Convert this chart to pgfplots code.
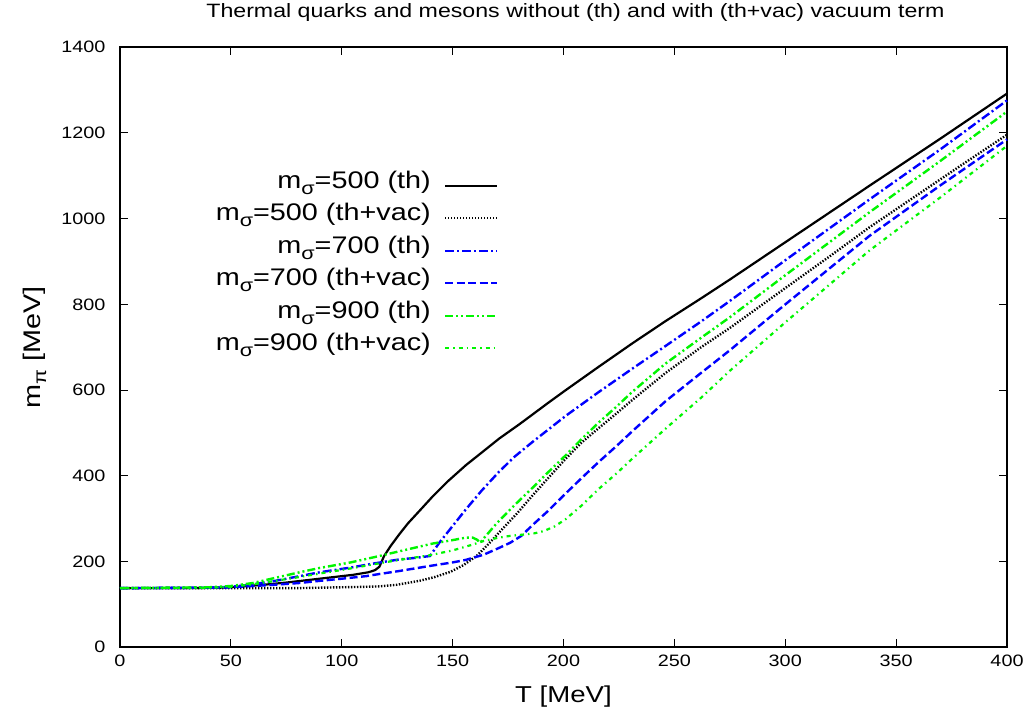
\documentclass[border=0pt]{standalone}
\usepackage{fontspec}
\setmainfont{Liberation Sans}[FakeStretch=1.2]
\usepackage{pgfplots}
\pgfplotsset{compat=1.18}
\definecolor{gpblue}{RGB}{0,0,255}
\definecolor{gpgreen}{RGB}{0,245,0}
\newcommand{\sub}[1]{\raisebox{-6bp}{\fontsize{18bp}{18bp}\selectfont #1}}
\pgfplotsset{
  legend image code/.code={\draw[#1] (0bp,0bp) -- (52bp,0bp);},
}
\begin{document}
\begin{tikzpicture}
\begin{axis}[
  scale only axis,
  width=887bp, height=600bp,
  xmin=0, xmax=400, ymin=0, ymax=1400,
  xtick={0,50,...,400}, ytick={0,200,...,1400},
  tick align=inside, major tick length=8bp,
  axis line style={line width=1.6bp},
  every tick/.style={black, line width=1bp},
  scaled ticks=false,
  /pgf/number format/1000 sep={},
  /pgf/number format/assume math mode=true,
  tick label style={font=\fontsize{16.5bp}{19bp}\selectfont},
  xticklabel style={yshift=-4bp},
  yticklabel style={xshift=-11bp},
  title={Thermal quarks and mesons without (th) and with (th+vac) vacuum term},
  title style={font=\fontsize{19.3bp}{23bp}\selectfont, at={(axis description cs:0.5135,1.04)}, anchor=base},
  xlabel={T [MeV]},
  xlabel style={font=\fontsize{23bp}{27bp}\selectfont, at={(axis description cs:0.5,-0.092)}, anchor=base},
  ylabel={m\sub{π} [MeV]},
  ylabel style={font=\fontsize{24bp}{27bp}\selectfont, at={(axis description cs:-0.09,0.5)}, anchor=base},
  clip=false,
  legend plot pos=right,
  legend cell align=right,
  legend style={at={(axis description cs:0.43,0.80)}, anchor=north east, draw=none, fill=none,
    font=\fontsize{24bp}{27bp}\selectfont, row sep=0pt,
    nodes={inner sep=0pt, text height=19bp, text depth=13.5bp},
    /tikz/every odd column/.append style={column sep=13bp}},
]
% m_sigma=500 (th)
\addplot[black, line width=2.2bp, solid] coordinates {
(0,138)(30,138)(45,139)(55,142)(65,146)(75,151)(85,157)(95,163)(105,169)(112,175)(115,180)(117,188)(119,212)(122,236)(126,264)(130,290)(135,318)(141,352)(148,388)(156,425)(164,458)(171,487)(180,520)(186,543)(193,570)(201,600)(216,655)(231,709)(246,761)(262,814)(275,858)(300,945)(338,1077)(370,1187)(400,1292)};
\addlegendentry{m\sub{σ}=500 (th)}
% m_sigma=500 (th+vac)
\addplot[black, line width=2.4bp, dash pattern=on 1.4bp off 1.6bp] coordinates {
(0,138)(50,138)(80,138)(100,140)(110,141)(117,142)(125,146)(135,155)(142,164)(149,176)(155,192)(161,214)(166,240)(171,268)(179,312)(186,354)(194,400)(201,440)(208,477)(216,512)(224,546)(231,577)(246,640)(262,700)(275,745)(300,838)(320,912)(338,980)(360,1057)(380,1127)(400,1196)};
\addlegendentry{m\sub{σ}=500 (th+vac)}
% m_sigma=700 (th)
\addplot[gpblue, line width=2.4bp, dash pattern=on 9bp off 3bp on 2bp off 3bp] coordinates {
(0,138)(40,139)(50,141)(60,147)(70,155)(81,166)(90,175)(104,186)(115,196)(126,205)(134,209)(139.8,213)(144,244)(150,283)(156,322)(163,365)(171,410)(178,445)(186,479)(201,540)(216,596)(231,650)(246,703)(262,760)(275,808)(300,903)(338,1045)(370,1162)(400,1276)};
\addlegendentry{m\sub{σ}=700 (th)}
% m_sigma=700 (th+vac)
\addplot[gpblue, line width=2.4bp, dash pattern=on 8bp off 3.5bp] coordinates {
(0,138)(40,139)(50,140)(60,143)(70,146)(81,150)(90,155)(100,160)(111,166)(117,171)(126,178)(140,190)(150,198)(156,204)(164,216)(171,232)(176,244)(181,260)(186,285)(193,318)(201,359)(208,394)(216,433)(224,470)(231,504)(246,574)(262,640)(275,693)(300,800)(338,960)(370,1078)(400,1185)};
\addlegendentry{m\sub{σ}=700 (th+vac)}
% m_sigma=900 (th)
\addplot[gpgreen, line width=2.4bp, dash pattern=on 8bp off 3bp on 2bp off 3bp on 2bp off 3bp] coordinates {
(0,138)(40,140)(50,143)(60,150)(70,162)(81,175)(90,185)(104,198)(117,213)(126,224)(141,242)(150,250)(156,256)(159,256)(161,251)(162.5,244)(164,254)(170,290)(178,332)(186,372)(193,408)(201,448)(208,485)(216,525)(224,562)(231,596)(246,662)(262,722)(275,770)(300,868)(338,1015)(370,1135)(400,1250)};
\addlegendentry{m\sub{σ}=900 (th)}
% m_sigma=900 (th+vac)
\addplot[gpgreen, line width=2.2bp, dash pattern=on 4bp off 4bp on 1.5bp off 4bp] coordinates {
(0,138)(40,139)(50,141)(60,147)(70,155)(81,164)(90,172)(104,184)(117,196)(126,204)(139,214)(150,226)(158,238)(164,248)(170,255)(176,260)(182,263)(187,266)(191,271)(196,282)(201,299)(208,330)(216,370)(224,406)(231,440)(246,510)(262,582)(275,645)(300,758)(338,926)(370,1050)(400,1170)};
\addlegendentry{m\sub{σ}=900 (th+vac)}
\end{axis}
\path (current axis.south west) ++(-120bp,-70bp) coordinate (bbA);
\path (current axis.north east) ++(23bp,43bp) coordinate (bbB);
\path (bbA) rectangle (bbB);
\end{tikzpicture}
\end{document}
